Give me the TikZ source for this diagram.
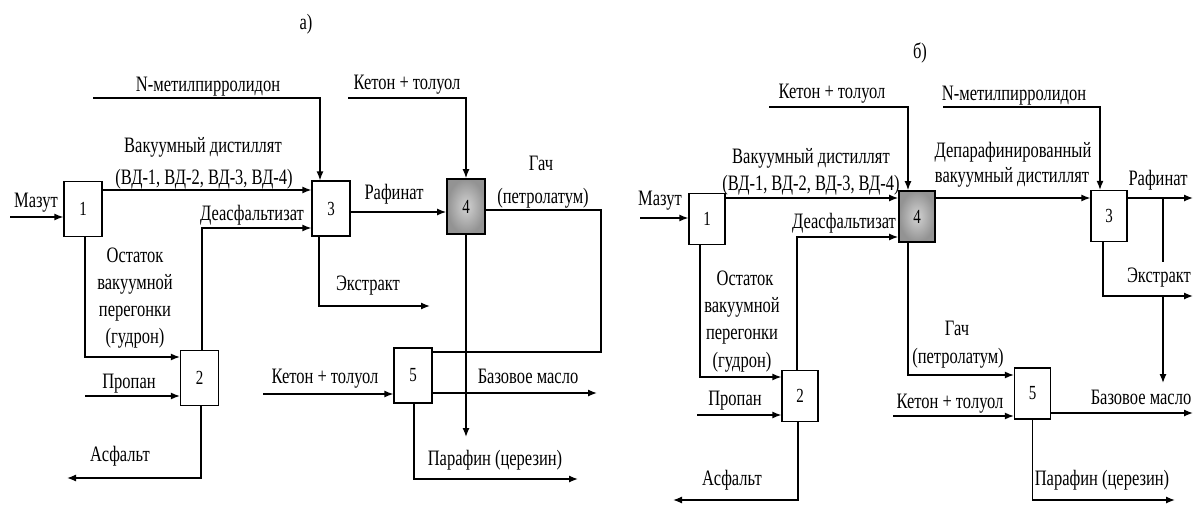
\documentclass[tikz,border=0pt]{standalone}
\usepackage{fontspec}
\setmainfont{Liberation Serif}[FakeStretch=0.75]
\usetikzlibrary{arrows.meta}
\begin{document}
\begin{tikzpicture}[x=1pt,y=-1pt, line width=1.3pt,
  font=\fontsize{22}{26}\selectfont,
  arr/.style={-{Latex[length=9pt,width=7pt]}},
  boxa/.style={draw, fill=white, minimum width=38pt, minimum height=55pt, inner sep=0pt},
  boxb/.style={draw, fill=white, minimum width=36pt, minimum height=51pt, inner sep=0pt},
  shadefour/.style={inner color=gray!35, outer color=gray!85, line width=1.8pt},
  lab/.style={inner sep=0pt, anchor=base},
  num/.style={font=\fontsize{20}{24}\selectfont}]
\useasboundingbox (0,0) rectangle (1195,506);

% ---------------- diagram a ----------------
\node[boxa,num] (a1) at (83,209) {1};
\node[boxa,num] (a2) at (199.5,378) {2};
\node[boxa,num] (a3) at (331,208.5) {3};
\node[boxa,num,shadefour] (a4) at (466,206.5) {4};
\node[boxa,num] (a5) at (413,375.5) {5};

\coordinate (aMz) at (10,217);
\coordinate (aN) at (93,98);
\coordinate (aK) at (348,98);
\coordinate (aG) at (601,352);
\coordinate (aP) at (466,437);
\coordinate (aE) at (430,306);
\coordinate (aK2) at (263,394);
\coordinate (aB) at (597,393);
\coordinate (aPf) at (578,479);
\coordinate (aPr) at (85,396);
\coordinate (aA) at (67,478);

\draw[arr] (aMz) -- (a1.west |- aMz);
\draw[arr] (a1.east |- 0,190) -- (a3.west |- 0,190);
\draw[arr] (aN) -| (320,0 |- a3.north);
\draw[arr] (aK) -| (a4.north);
\draw[arr] (202,0 |- a2.north) |- (a3.west |- 0,228);
\draw[arr] (a3.east |- 0,212) -- (a4.west |- 0,212);
\draw (a4.east |- 0,210) -| (aG) -- (a5.east |- aG);
\draw[arr] (a4.south) -- (aP);
\draw[arr] (319,0 |- a3.south) |- (aE);
\draw[arr] (aK2) -- (a5.west |- aK2);
\draw[arr] (a5.east |- aB) -- (aB);
\draw[arr] (414,0 |- a5.south) |- (aPf);
\draw[arr] (85,0 |- a1.south) |- (a2.west |- 0,357);
\draw[arr] (aPr) -- (a2.west |- aPr);
\draw[arr] (201,0 |- a2.south) |- (aA);

\node[lab] (ta) at (306,30) {а)};
\node[lab] (taN) at (208,91) {N-метилпирролидон};
\node[lab] (taK) at (407,89) {Кетон + толуол};
\node[lab] (taV1) at (203,152) {Вакуумный дистиллят};
\node[lab] (taV2) at (204,184) {(ВД-1, ВД-2, ВД-3, ВД-4)};
\node[lab] (taM) at (36,207) {Мазут};
\node[lab] (taD) at (252,220) {Деасфальтизат};
\node[lab] (taR) at (394,199) {Рафинат};
\node[lab] (taG1) at (541,170) {Гач};
\node[lab] (taG2) at (543,203) {(петролатум)};
\node[lab] (taO1) at (135,262) {Остаток};
\node[lab] (taO2) at (135,289) {вакуумной};
\node[lab] (taO3) at (135,316) {перегонки};
\node[lab] (taO4) at (135,343) {(гудрон)};
\node[lab] (taE) at (368,290) {Экстракт};
\node[lab] (taK2) at (325,383) {Кетон + толуол};
\node[lab] (taB) at (528,383) {Базовое масло};
\node[lab] (taPf) at (495,465) {Парафин (церезин)};
\node[lab] (taPr) at (129,388) {Пропан};
\node[lab] (taA) at (120,461) {Асфальт};

% ---------------- diagram b ----------------
\node[boxb,num] (b1) at (707,219) {1};
\node[boxb,num] (b2) at (800,396) {2};
\node[boxb,num] (b3) at (1109,216) {3};
\node[boxb,num,shadefour] (b4) at (917,216.5) {4};
\node[boxb,num] (b5) at (1032.5,393.5) {5};

\coordinate (bMz) at (640,218);
\coordinate (bK) at (769,107);
\coordinate (bN) at (943,107);
\coordinate (bR) at (1193,198);
\coordinate (bRv) at (1163,198);
\coordinate (bRe) at (1163,262);
\coordinate (bE) at (1193,296);
\coordinate (bEv) at (1163,296);
\coordinate (bBv) at (1163,383);
\coordinate (bK2) at (893,416);
\coordinate (bB) at (1193,413);
\coordinate (bPf) at (1175,500);
\coordinate (bPr) at (697,415);
\coordinate (bA) at (673,500);

\draw[arr] (bMz) -- (b1.west |- bMz);
\draw[arr] (bK) -| (908,0 |- b4.north);
\draw[arr] (bN) -| (1100,0 |- b3.north);
\draw[arr] (b1.east |- 0,198) -- (b4.west |- 0,198);
\draw[arr] (797,0 |- b2.north) |- (b4.west |- 0,237);
\draw[arr] (b4.east |- 0,198) -- (b3.west |- 0,198);
\draw[arr] (b3.east |- bR) -- (bR);
\draw (bRv) -- (bRe);
\draw[arr] (1103,0 |- b3.south) |- (bE);
\draw[arr] (bEv) -- (bBv);
\draw[arr] (908,0 |- b4.south) |- (b5.west |- 0,375);
\draw[arr] (bK2) -- (b5.west |- bK2);
\draw[arr] (b5.east |- bB) -- (bB);
\draw[arr] (b5.south) |- (bPf);
\draw[arr] (700,0 |- b1.south) |- (b2.west |- 0,377);
\draw[arr] (bPr) -- (b2.west |- bPr);
\draw[arr] (798,0 |- b2.south) |- (bA);

\node[lab] (tb) at (920,58) {б)};
\node[lab] (tbK) at (832,98) {Кетон + толуол};
\node[lab] (tbN) at (1014,100) {N-метилпирролидон};
\node[lab] (tbV1) at (811,163) {Вакуумный дистиллят};
\node[lab] (tbV2) at (811,190) {(ВД-1, ВД-2, ВД-3, ВД-4)};
\node[lab] (tbM) at (660,205) {Мазут};
\node[lab] (tbD) at (844,228) {Деасфальтизат};
\node[lab] (tbDp1) at (1013,157) {Депарафинированный};
\node[lab] (tbDp2) at (1012,182) {вакуумный дистиллят};
\node[lab] (tbR) at (1158,185) {Рафинат};
\node[lab] (tbE) at (1159,282) {Экстракт};
\node[lab] (tbB) at (1141,404) {Базовое масло};
\node[lab] (tbG1) at (957,335) {Гач};
\node[lab] (tbG2) at (958,363) {(петролатум)};
\node[lab] (tbK2) at (950,408) {Кетон + толуол};
\node[lab] (tbPf) at (1102,485) {Парафин (церезин)};
\node[lab] (tbO1) at (745,285) {Остаток};
\node[lab] (tbO2) at (742,312) {вакуумной};
\node[lab] (tbO3) at (742,339) {перегонки};
\node[lab] (tbO4) at (742,367) {(гудрон)};
\node[lab] (tbPr) at (735,405) {Пропан};
\node[lab] (tbA) at (732,485) {Асфальт};
\end{tikzpicture}
\end{document}
